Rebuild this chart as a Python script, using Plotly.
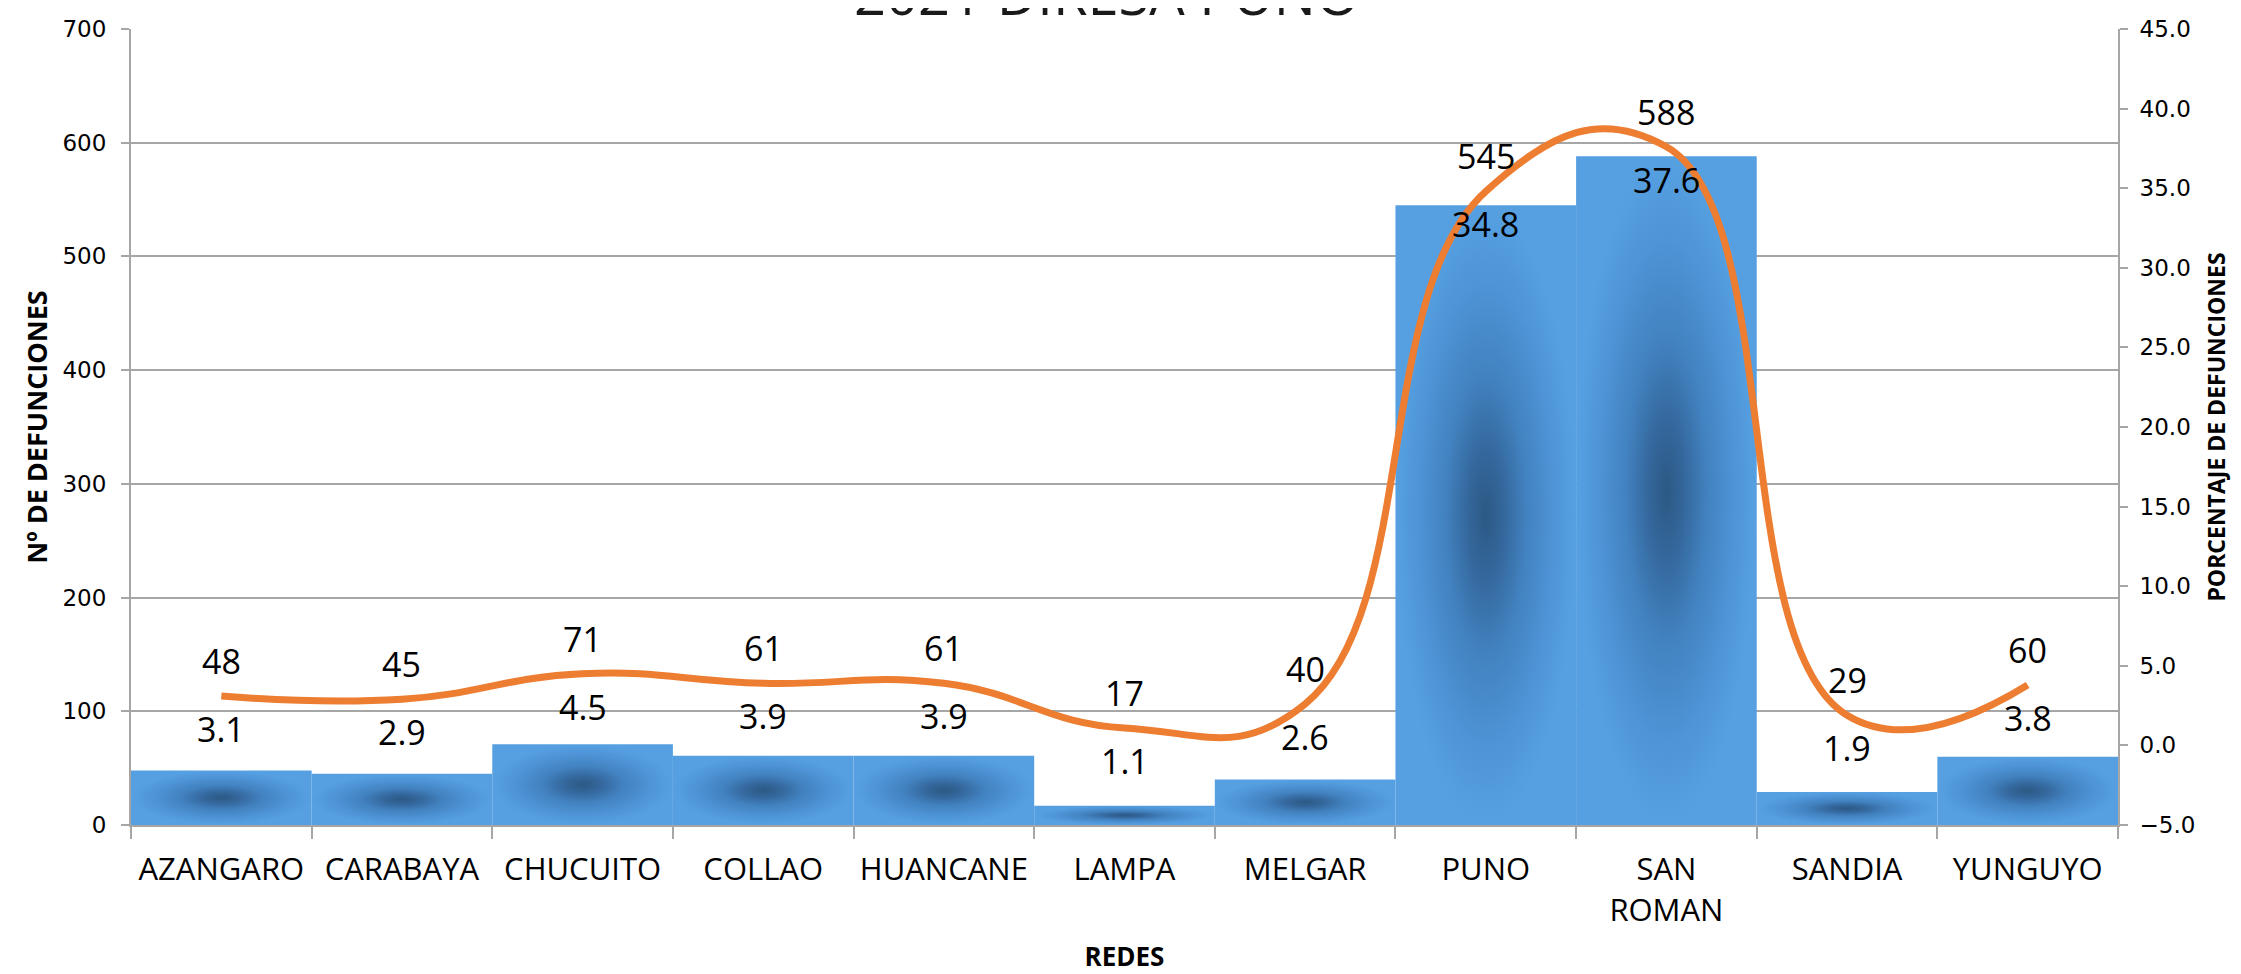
import plotly.graph_objects as go

# ---- data ----
redes = ["AZANGARO", "CARABAYA", "CHUCUITO", "COLLAO", "HUANCANE", "LAMPA",
         "MELGAR", "PUNO", "SAN ROMAN", "SANDIA", "YUNGUYO"]
tick_text = ["AZANGARO", "CARABAYA", "CHUCUITO", "COLLAO", "HUANCANE", "LAMPA",
             "MELGAR", "PUNO", "SAN<br>ROMAN", "SANDIA", "YUNGUYO"]
defunciones = [48, 45, 71, 61, 61, 17, 40, 545, 588, 29, 60]
porcentaje = [3.1, 2.9, 4.5, 3.9, 3.9, 1.1, 2.6, 34.8, 37.6, 1.9, 3.8]
left_ticks = [0, 100, 200, 300, 400, 500, 600, 700]
right_ticks = [-5, 0, 5, 10, 15, 20, 25, 30, 35, 40, 45]

# ---- styles ----
BAR_W = 1.0
ORANGE = "#ED7D31"
GRID = "#a6a6a6"
LABEL_FONT = "Open Sans"
TICK_FONT = "DejaVu Sans"
bar_scale = [[0, "#2c5984"], [0.2, "#34679c"], [0.45, "#4282c0"],
             [0.75, "#4e94d6"], [1, "#56a0e2"]]

x_idx = list(range(len(redes)))

fig = go.Figure()

# bars (filled shapes so they can carry Excel's radial gradient)
for i, v in enumerate(defunciones):
    x0, x1 = i - BAR_W / 2, i + BAR_W / 2
    fig.add_trace(go.Scatter(
        x=[x0, x1, x1, x0, x0], y=[0, 0, v, v, 0],
        mode="lines", fill="toself", line=dict(width=0),
        fillgradient=dict(type="radial", colorscale=bar_scale),
        name=redes[i], showlegend=False, hoverinfo="skip", yaxis="y"))

# percentage line
fig.add_trace(go.Scatter(
    x=x_idx, y=porcentaje, mode="lines", yaxis="y2",
    line=dict(color=ORANGE, width=7, shape="spline", smoothing=1.3),
    showlegend=False, hoverinfo="skip"))

annotations = []
for i, (n, p) in enumerate(zip(defunciones, porcentaje)):
    annotations.append(dict(x=i, y=p, xref="x", yref="y2", text=str(n),
                            showarrow=False, yshift=35,
                            font=dict(family=LABEL_FONT, size=34, color="black")))
    annotations.append(dict(x=i, y=p, xref="x", yref="y2", text=f"{p:.1f}",
                            showarrow=False, yshift=-33,
                            font=dict(family=LABEL_FONT, size=34, color="black")))

annotations.append(dict(x=0.491, y=1, xref="paper", yref="paper",
                        text="2021 DIRESA PUNO", showarrow=False,
                        yanchor="bottom", yshift=-4,
                        font=dict(family=LABEL_FONT, size=56, color="#1a1a1a")))

fig.update_layout(
    width=2241, height=974,
    margin=dict(l=123, r=131, t=21, b=157, autoexpand=False),
    paper_bgcolor="white", plot_bgcolor="white",
    showlegend=False,
    annotations=annotations,
    xaxis=dict(
        range=[-0.5, len(redes) - 0.5], automargin=False,
        tickmode="array", tickvals=x_idx, ticktext=tick_text,
        ticks="", showgrid=False, zeroline=False,
        showline=True, linecolor=GRID, linewidth=2,
        tickfont=dict(family=LABEL_FONT, size=31, color="black"),
        ticklabelstandoff=16,
        minor=dict(tickmode="array",
                   tickvals=[i - 0.5 for i in range(len(redes) + 1)],
                   ticks="outside", ticklen=12, tickcolor=GRID, tickwidth=1.5,
                   showgrid=False),
        title=dict(text="<b>REDES</b>", standoff=19,
                   font=dict(family=LABEL_FONT, size=26, color="black")),
    ),
    yaxis=dict(
        range=[0, 700], tickmode="array", tickvals=left_ticks, automargin=False,
        showgrid=True, gridcolor=GRID, gridwidth=1.5, zeroline=False,
        showline=True, linecolor=GRID, linewidth=2,
        ticks="outside", ticklen=8, tickcolor=GRID, tickwidth=1.5,
        tickfont=dict(family=TICK_FONT, size=23, color="black"),
        ticklabelstandoff=10,
        title=dict(text="<b>Nº DE DEFUNCIONES</b>", standoff=7,
                   font=dict(family=LABEL_FONT, size=27, color="black")),
    ),
    yaxis2=dict(
        range=[-5, 45], overlaying="y", side="right", automargin=False,
        tickmode="array", tickvals=right_ticks, tickformat=".1f",
        showgrid=False, zeroline=False,
        showline=True, linecolor=GRID, linewidth=2,
        ticks="outside", ticklen=8, tickcolor=GRID, tickwidth=1.5,
        tickfont=dict(family=TICK_FONT, size=23, color="black"),
        ticklabelstandoff=7,
        title=dict(text="<b>PORCENTAJE DE DEFUNCIONES</b>", standoff=14,
                   font=dict(family=LABEL_FONT, size=23, color="black")),
    ),
)

fig.write_html("out.html")
